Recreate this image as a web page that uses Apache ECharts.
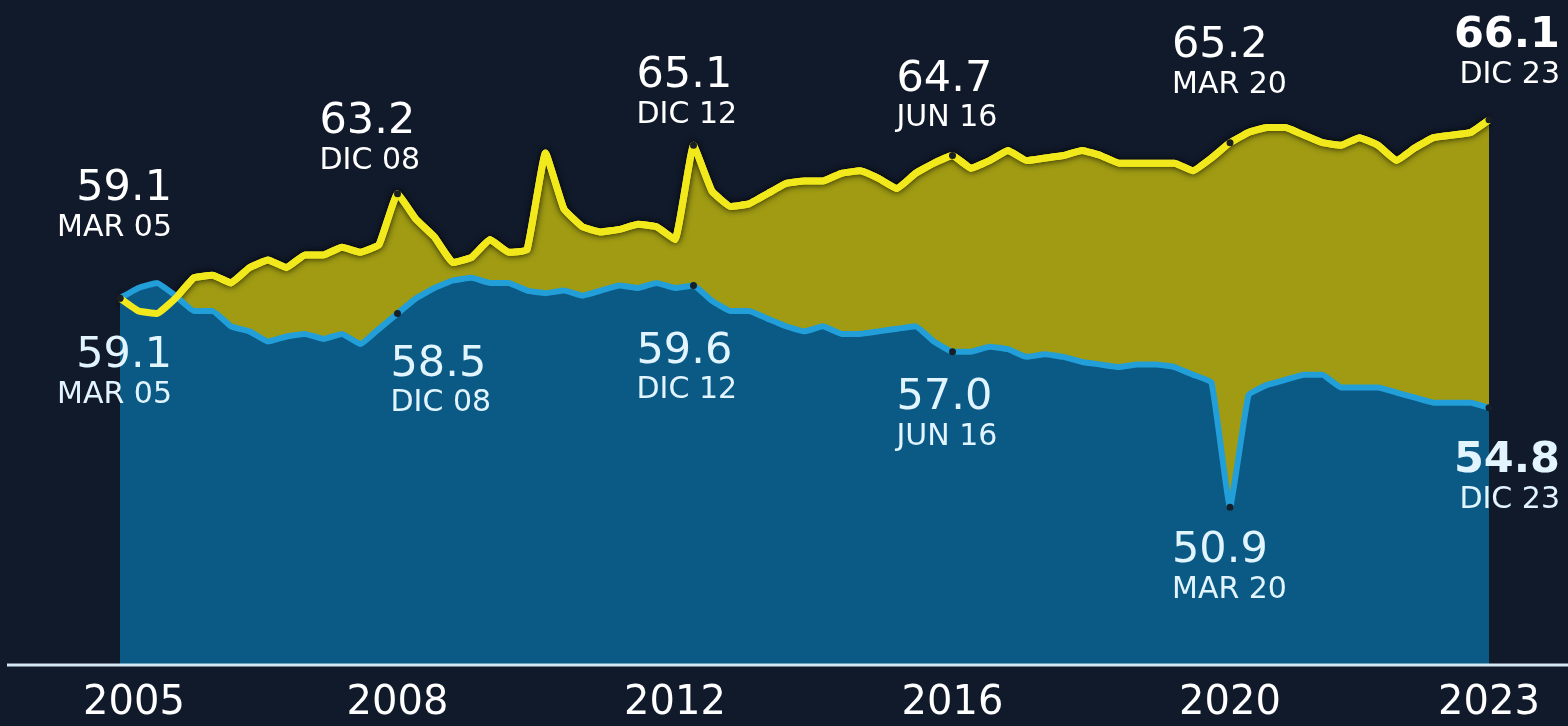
<!DOCTYPE html>
<html>
<head>
<meta charset="utf-8">
<script src="https://cdn.jsdelivr.net/npm/echarts@6/dist/echarts.min.js"></script>
<style>
  html, body { margin: 0; padding: 0; background: #111a2b; }
  #chart { width: 1568px; height: 726px; }
</style>
</head>
<body>
<div id="chart"></div>
<script>
// Quarterly periods (Q2 2020 absent in the source series)
const quarters = [
  "MAR 05","JUN 05","SEP 05","DIC 05","MAR 06","JUN 06","SEP 06","DIC 06",
  "MAR 07","JUN 07","SEP 07","DIC 07","MAR 08","JUN 08","SEP 08","DIC 08",
  "MAR 09","JUN 09","SEP 09","DIC 09","MAR 10","JUN 10","SEP 10","DIC 10",
  "MAR 11","JUN 11","SEP 11","DIC 11","MAR 12","JUN 12","SEP 12","DIC 12",
  "MAR 13","JUN 13","SEP 13","DIC 13","MAR 14","JUN 14","SEP 14","DIC 14",
  "MAR 15","JUN 15","SEP 15","DIC 15","MAR 16","JUN 16","SEP 16","DIC 16",
  "MAR 17","JUN 17","SEP 17","DIC 17","MAR 18","JUN 18","SEP 18","DIC 18",
  "MAR 19","JUN 19","SEP 19","DIC 19","MAR 20",
  "SEP 20","DIC 20","MAR 21","JUN 21","SEP 21","DIC 21",
  "MAR 22","JUN 22","SEP 22","DIC 22","MAR 23","JUN 23","SEP 23","DIC 23"
];

const yellowValues = [
  59.1, 58.6, 58.5, 59.1, 59.9, 60.0, 59.7, 60.3, 60.6, 60.3, 60.8, 60.8, 61.1, 60.9, 61.2, 63.2,
  62.2, 61.5, 60.5, 60.7, 61.4, 60.9, 61.0, 64.8, 62.6, 61.9, 61.7, 61.8, 62.0, 61.9, 61.4, 65.1,
  63.3, 62.7, 62.8, 63.2, 63.6, 63.7, 63.7, 64.0, 64.1, 63.8, 63.4, 64.0, 64.4, 64.7,
  64.2, 64.5, 64.9, 64.5, 64.6, 64.7, 64.9, 64.7, 64.4, 64.4, 64.4, 64.4, 64.1, 64.6, 65.2,
  65.6, 65.8, 65.8, 65.5, 65.2, 65.1, 65.4, 65.1, 64.5, 65.0, 65.4, 65.5, 65.6, 66.1
];

const blueValues = [
  59.1, 59.5, 59.7, 59.2, 58.6, 58.6, 58.0, 57.8, 57.4, 57.6, 57.7, 57.5, 57.7, 57.3, 57.9, 58.5,
  59.1, 59.5, 59.8, 59.9, 59.7, 59.7, 59.4, 59.3, 59.4, 59.2, 59.4, 59.6, 59.5, 59.7, 59.5, 59.6,
  59.0, 58.6, 58.6, 58.3, 58.0, 57.8, 58.0, 57.7, 57.7, 57.8, 57.9, 58.0, 57.4, 57.0,
  57.0, 57.2, 57.1, 56.8, 56.9, 56.8, 56.6, 56.5, 56.4, 56.5, 56.5, 56.4, 56.1, 55.8, 50.9,
  55.3, 55.7, 55.9, 56.1, 56.1, 55.6, 55.6, 55.6, 55.4, 55.2, 55.0, 55.0, 55.0, 54.8
];

// Year tick labels shown on the axis, and the period where each sits
const tickLabels = ["2005", "2008", "2012", "2016", "2020", "2023"];
const tickPeriods = ["MAR 05", "DIC 08", "SEP 12", "JUN 16", "MAR 20", "DIC 23"];

// Annotated periods
const yellowMarked = ["MAR 05", "DIC 08", "DIC 12", "JUN 16", "MAR 20", "DIC 23"];
const blueMarked   = ["MAR 05", "DIC 08", "DIC 12", "JUN 16", "MAR 20", "DIC 23"];

// label layout (offset from point, alignment)
const yellowLayout = [
  { dx: 52, dy: -132, align: 'right' },
  { dx: -78, dy: -95, align: 'left' },
  { dx: -57, dy: -92, align: 'left' },
  { dx: -56, dy: -99, align: 'left' },
  { dx: -58, dy: -120, align: 'left' },
  { dx: 71, dy: -107, align: 'right', bold: true }
];
const blueLayout = [
  { dx: 52, dy: 35, align: 'right' },
  { dx: -7, dy: 28, align: 'left' },
  { dx: -57, dy: 43, align: 'left' },
  { dx: -56, dy: 23, align: 'left' },
  { dx: -58, dy: 21, align: 'left' },
  { dx: 71, dy: 30, align: 'right', bold: true }
];

const FONT = '"DejaVu Sans", sans-serif';
const SYM = 7;

function buildMarks(periods, values, layout, color) {
  return periods.map((p, k) => {
    const idx = quarters.indexOf(p);
    const v = values[idx];
    const L = layout[k];
    return {
      coord: [p, v],
      value: v,
      label: {
        show: true,
        position: [L.dx + SYM / 2, L.dy + SYM / 2],
        align: L.align,
        verticalAlign: 'top',
        formatter: '{' + (L.bold ? 'vb' : 'v') + '|' + v.toFixed(1) + '}\n{d|' + p + '}',
        rich: {
          v:  { fontFamily: FONT, fontSize: 43, lineHeight: 46, color: color, align: L.align },
          vb: { fontFamily: FONT, fontSize: 43, lineHeight: 46, color: color, fontWeight: 'bold', align: L.align },
          d:  { fontFamily: FONT, fontSize: 30, lineHeight: 32, color: color, align: L.align }
        }
      }
    };
  });
}

const chart = echarts.init(document.getElementById('chart'), null, { renderer: 'canvas' });

const option = {
  backgroundColor: '#111a2b',
  animation: false,
  grid: { left: 120, right: 79, top: 0, bottom: 62, containLabel: false },
  xAxis: {
    type: 'category',
    data: quarters,
    boundaryGap: false,
    axisLine: { show: false },
    axisTick: { show: false },
    splitLine: { show: false },
    axisLabel: {
      interval: 0,
      margin: 20,
      color: '#ffffff',
      fontFamily: FONT,
      fontSize: 40,
      formatter: function (val) {
        const k = tickPeriods.indexOf(val);
        if (k < 0) return '';
        if (k === 0) return '{first|' + tickLabels[k] + '}';
        return tickLabels[k];
      },
      rich: {
        first: { fontFamily: FONT, fontSize: 40, color: '#ffffff', padding: [0, 0, 0, 28] }
      }
    }
  },
  yAxis: {
    type: 'value',
    min: 44.75,
    max: 70.8,
    show: false,
    splitLine: { show: false }
  },
  series: [
    {
      name: 'yellowArea',
      type: 'line',
      data: yellowValues,
      z: 1,
      symbol: 'none',
      smooth: 0.1,
      lineStyle: { color: '#f2e91c', width: 7, shadowColor: 'rgba(0,0,0,0.9)', shadowBlur: 7 },
      areaStyle: { color: '#a09b13', opacity: 1, origin: 'start' }
    },
    {
      name: 'blue',
      type: 'line',
      data: blueValues,
      z: 2,
      symbol: 'none',
      smooth: 0.1,
      lineStyle: { color: '#229fd8', width: 6, join: 'round' },
      areaStyle: { color: '#0b5a86', opacity: 1, origin: 'start' },
      markPoint: {
        symbol: 'circle',
        symbolSize: SYM,
        itemStyle: { color: '#14202c' },
        data: buildMarks(blueMarked, blueValues, blueLayout, '#e2f5ff')
      }
    },
    {
      name: 'yellowLine',
      type: 'line',
      data: yellowValues,
      z: 3,
      symbol: 'none',
      smooth: 0.1,
      lineStyle: { color: '#f2e91c', width: 7, join: 'round' },
      markPoint: {
        symbol: 'circle',
        symbolSize: SYM,
        itemStyle: { color: '#1a1f22' },
        data: buildMarks(yellowMarked, yellowValues, yellowLayout, '#ffffff')
      }
    }
  ],
  graphic: [
    {
      type: 'line',
      z: 10,
      shape: { x1: 7, y1: 665, x2: 1568, y2: 665 },
      style: { stroke: '#d6e8f2', lineWidth: 3 }
    }
  ]
};

chart.setOption(option);
</script>
</body>
</html>
